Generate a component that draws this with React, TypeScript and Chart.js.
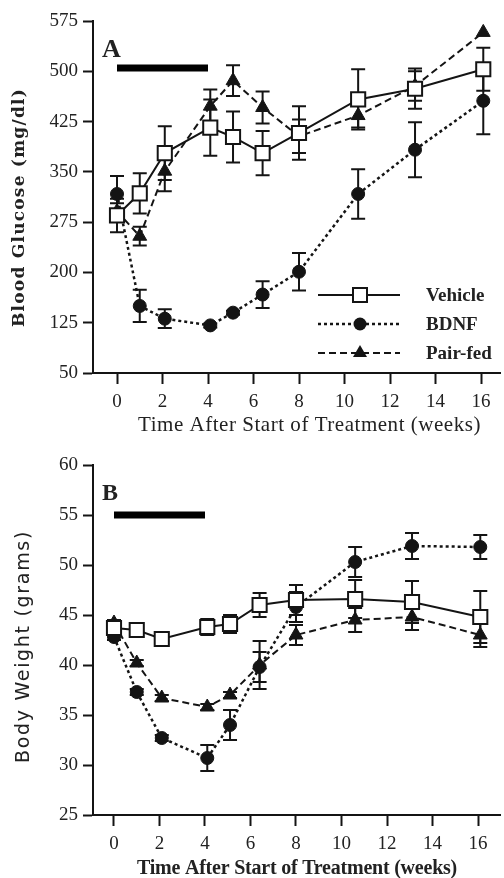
import React, { useEffect, useRef } from 'react';
import { Chart, registerables } from 'chart.js';

Chart.register(...registerables);

// ---------- data ----------
const weeks = [0, 1, 2.1, 4.1, 5.1, 6.4, 8, 10.6, 13.1, 16.1];
const xTickValues = [0, 2, 4, 6, 8, 10, 12, 14, 16];
const glucoseTicks = [50, 125, 200, 275, 350, 425, 500, 575];
const weightTicks = [25, 30, 35, 40, 45, 50, 55, 60];
const seriesNames = ['Vehicle', 'BDNF', 'Pair-fed'];

const vehicleGlucose = [285, 318, 378, 416, 402, 378, 408, 458, 474, 503];
const vehicleGlucoseErr = [25, 30, 40, 42, 38, 33, 40, 45, 30, 32];
const bdnfGlucose = [317, 150, 131, 121, 140, 167, 201, 317, 383, 456];
const bdnfGlucoseErr = [27, 24, 14, 3, 3, 20, 28, 37, 41, 50];
const pairGlucose = [291, 254, 351, 448, 486, 446, 403, 434, 478, 558];
const pairGlucoseErr = [12, 14, 30, 25, 23, 24, 25, 18, 22, 0];

const vehicleWeight = [43.7, 43.5, 42.6, 43.8, 44.1, 46.0, 46.5, 46.6, 46.3, 44.8];
const vehicleWeightErr = [0.5, 0.3, 0.3, 0.8, 0.9, 1.2, 1.5, 1.9, 2.1, 2.6];
const bdnfWeight = [42.8, 37.3, 32.7, 30.7, 34.0, 39.8, 45.8, 50.3, 51.9, 51.8];
const bdnfWeightErr = [0.3, 0.3, 0.3, 1.3, 1.5, 1.5, 1.5, 1.5, 1.3, 1.2];
const pairWeight = [44.2, 40.2, 36.7, 35.8, 37.0, 40.0, 43.0, 44.5, 44.8, 43.0];
const pairWeightErr = [0.3, 0.3, 0.3, 0.3, 0.3, 2.4, 1.0, 1.2, 1.3, 1.2];

const treatmentWeeks = [0, 4];
const treatmentGlucoseLevel = 505;
const treatmentWeightLevel = 55;

// ---------- styling ----------
const SERIF = "'Liberation Serif', 'Times New Roman', serif";
const INK = '#141414';
const TXT = '#222';

const toPts = (ys: number[]) => ys.map((y, i) => ({ x: weeks[i], y }));

function seriesDatasets(vals: number[][], errs: number[][]) {
  return [
    {
      label: seriesNames[0], data: toPts(vals[0]), errors: errs[0],
      showLine: true, borderColor: INK, borderWidth: 2, borderDash: [],
      pointStyle: 'rect', pointRadius: 10, pointBackgroundColor: '#fff',
      pointBorderColor: INK, pointBorderWidth: 2,
    },
    {
      label: seriesNames[1], data: toPts(vals[1]), errors: errs[1],
      showLine: true, borderColor: INK, borderWidth: 2.5, borderDash: [3, 3],
      pointStyle: 'circle', pointRadius: 6.5, pointBackgroundColor: INK,
      pointBorderColor: INK, pointBorderWidth: 1,
    },
    {
      label: seriesNames[2], data: toPts(vals[2]), errors: errs[2],
      showLine: true, borderColor: INK, borderWidth: 2, borderDash: [7, 4],
      pointStyle: 'triangle', pointRadius: 8, pointBackgroundColor: INK,
      pointBorderColor: INK, pointBorderWidth: 1,
    },
  ];
}

function treatmentDataset(level: number) {
  return {
    label: 'treatment', data: treatmentWeeks.map((x) => ({ x, y: level })),
    showLine: true, borderColor: '#000', borderWidth: 7, borderCapStyle: 'butt',
    pointRadius: 0, borderDash: [],
  };
}

const errorBarPlugin = {
  id: 'errorBars',
  beforeDatasetsDraw(chart: any) {
    const { ctx, scales } = chart;
    const xs = scales.x, ys = scales.y;
    chart.data.datasets.forEach((ds: any) => {
      if (!ds.errors) return;
      ctx.save();
      ctx.strokeStyle = INK;
      ctx.lineWidth = 2;
      ctx.setLineDash([]);
      ds.data.forEach((p: any, j: number) => {
        const e = ds.errors[j];
        if (!e) return;
        const px = xs.getPixelForValue(p.x);
        const top = ys.getPixelForValue(p.y + e);
        const bot = ys.getPixelForValue(p.y - e);
        ctx.beginPath();
        ctx.moveTo(px, top); ctx.lineTo(px, bot);
        ctx.moveTo(px - 7, top); ctx.lineTo(px + 7, top);
        ctx.moveTo(px - 7, bot); ctx.lineTo(px + 7, bot);
        ctx.stroke();
      });
      ctx.restore();
    });
  },
};

function drawText(ctx: any, text: string, x: number, y: number, font: string, width: number, rot: number) {
  ctx.save();
  ctx.font = font;
  ctx.fillStyle = TXT;
  ctx.textAlign = 'center';
  ctx.textBaseline = 'middle';
  const w = ctx.measureText(text).width;
  if (width) ctx.letterSpacing = ((width - w) / text.length).toFixed(2) + 'px';
  ctx.translate(x, y);
  ctx.rotate(rot);
  ctx.fillText(text, 0, 0);
  ctx.restore();
}

function marker(ctx: any, style: string, x: number, y: number) {
  ctx.save();
  ctx.setLineDash([]);
  ctx.lineWidth = 2;
  ctx.strokeStyle = INK;
  ctx.fillStyle = INK;
  ctx.beginPath();
  if (style === 'rect') {
    ctx.fillStyle = '#fff';
    ctx.rect(x - 7, y - 7, 14, 14);
    ctx.fill(); ctx.stroke();
  } else if (style === 'circle') {
    ctx.arc(x, y, 6.5, 0, Math.PI * 2);
    ctx.fill();
  } else {
    ctx.moveTo(x, y - 8); ctx.lineTo(x + 7, y + 4); ctx.lineTo(x - 7, y + 4); ctx.closePath();
    ctx.fill();
  }
  ctx.restore();
}

function makeOptions(p: any) {
  const tickFont = { family: SERIF, size: 19 };
  return {
    responsive: false,
    animation: false,
    devicePixelRatio: 1,
    layout: { autoPadding: false, padding: { top: p.padTop, right: 4, left: 0, bottom: 0 } },
    plugins: { legend: { display: false }, tooltip: { enabled: false } },
    scales: {
      x: {
        type: 'linear', min: p.xMin, max: p.xMax,
        afterBuildTicks: (s: any) => { s.ticks = xTickValues.map((v) => ({ value: v })); },
        afterFit: (s: any) => { s.height = p.xHeight; s.paddingLeft = 0; s.paddingRight = 0; },
        grid: { drawOnChartArea: false, drawTicks: true, tickLength: 11, tickWidth: 2, tickColor: INK },
        border: { display: true, color: INK, width: 2 },
        ticks: { font: tickFont, color: TXT, padding: 7, maxRotation: 0, autoSkip: false },
      },
      y: {
        type: 'linear', min: p.yTicks[0], max: p.yTicks[p.yTicks.length - 1],
        afterBuildTicks: (s: any) => { s.ticks = p.yTicks.map((v: number) => ({ value: v })); },
        afterFit: (s: any) => { s.width = 93; s.paddingTop = 0; s.paddingBottom = 0; },
        grid: { drawOnChartArea: false, drawTicks: true, tickLength: 10, tickWidth: 2, tickColor: INK },
        border: { display: true, color: INK, width: 2 },
        ticks: { font: tickFont, color: TXT, padding: 5, autoSkip: false },
      },
    },
  };
}

export default function App() {
  const refA = useRef<HTMLCanvasElement>(null);
  const refB = useRef<HTMLCanvasElement>(null);

  useEffect(() => {
    const annotA = {
      id: 'annotA',
      afterDraw(chart: any) {
        const { ctx, chartArea } = chart;
        ctx.save();
        ctx.font = `bold 26px ${SERIF}`;
        ctx.fillStyle = TXT;
        ctx.textAlign = 'left';
        ctx.textBaseline = 'alphabetic';
        ctx.fillText('A', 102, 57);
        ctx.restore();
        drawText(ctx, 'Blood Glucose (mg/dl)', 20, 207.5, "bold 17px 'DejaVu Serif', serif", 239, -Math.PI / 2);
        drawText(ctx, 'Time After Start of Treatment (weeks)', 309.5, 425, `21px ${SERIF}`, 343, 0);
        // legend
        const styles = ['rect', 'circle', 'triangle'];
        const dashes = [[], [3, 3], [7, 4]];
        const widths = [2, 2.5, 2];
        const rows = [chartArea.bottom - 78, chartArea.bottom - 49, chartArea.bottom - 20];
        const lx0 = chartArea.right - 182, lx1 = chartArea.right - 100, mx = chartArea.right - 140;
        rows.forEach((ry, i) => {
          ctx.save();
          ctx.strokeStyle = INK;
          ctx.lineWidth = widths[i];
          ctx.setLineDash(dashes[i]);
          ctx.beginPath();
          ctx.moveTo(lx0, ry); ctx.lineTo(lx1, ry);
          ctx.stroke();
          ctx.restore();
          marker(ctx, styles[i], mx, ry);
          ctx.save();
          ctx.font = `bold 19px ${SERIF}`;
          ctx.fillStyle = TXT;
          ctx.textAlign = 'left';
          ctx.textBaseline = 'middle';
          ctx.fillText(seriesNames[i], chartArea.right - 74, ry + 1);
          ctx.restore();
        });
      },
    };
    const annotB = {
      id: 'annotB',
      afterDraw(chart: any) {
        const { ctx } = chart;
        ctx.save();
        ctx.font = `bold 24px ${SERIF}`;
        ctx.fillStyle = TXT;
        ctx.textAlign = 'left';
        ctx.textBaseline = 'alphabetic';
        ctx.fillText('B', 102, 60);
        ctx.restore();
        drawText(ctx, 'Body Weight (grams)', 24, 206.5, "19px 'DejaVu Sans', sans-serif", 233, -Math.PI / 2);
        drawText(ctx, 'Time After Start of Treatment (weeks)', 297, 429, `bold 20px ${SERIF}`, 320, 0);
      },
    };

    const chartA = new Chart(refA.current as HTMLCanvasElement, {
      type: 'scatter',
      data: {
        datasets: [
          ...seriesDatasets([vehicleGlucose, bdnfGlucose, pairGlucose], [vehicleGlucoseErr, bdnfGlucoseErr, pairGlucoseErr]),
          treatmentDataset(treatmentGlucoseLevel),
        ] as any,
      },
      options: makeOptions({ padTop: 21, xHeight: 67, xMin: -1.055, xMax: 16.835, yTicks: glucoseTicks }) as any,
      plugins: [errorBarPlugin, annotA],
    });
    const chartB = new Chart(refB.current as HTMLCanvasElement, {
      type: 'scatter',
      data: {
        datasets: [
          ...seriesDatasets([vehicleWeight, bdnfWeight, pairWeight], [vehicleWeightErr, bdnfWeightErr, pairWeightErr]),
          treatmentDataset(treatmentWeightLevel),
        ] as any,
      },
      options: makeOptions({ padTop: 25, xHeight: 63, xMin: -0.923, xMax: 16.967, yTicks: weightTicks }) as any,
      plugins: [errorBarPlugin, annotB],
    });
    return () => {
      chartA.destroy();
      chartB.destroy();
    };
  }, []);

  return (
    <div style={{ position: 'absolute', left: 0, top: 0, width: 504, height: 878, background: '#fff' }}>
      <canvas ref={refA} width={504} height={440} style={{ display: 'block', width: 504, height: 440 }} />
      <canvas ref={refB} width={504} height={438} style={{ display: 'block', width: 504, height: 438 }} />
    </div>
  );
}
